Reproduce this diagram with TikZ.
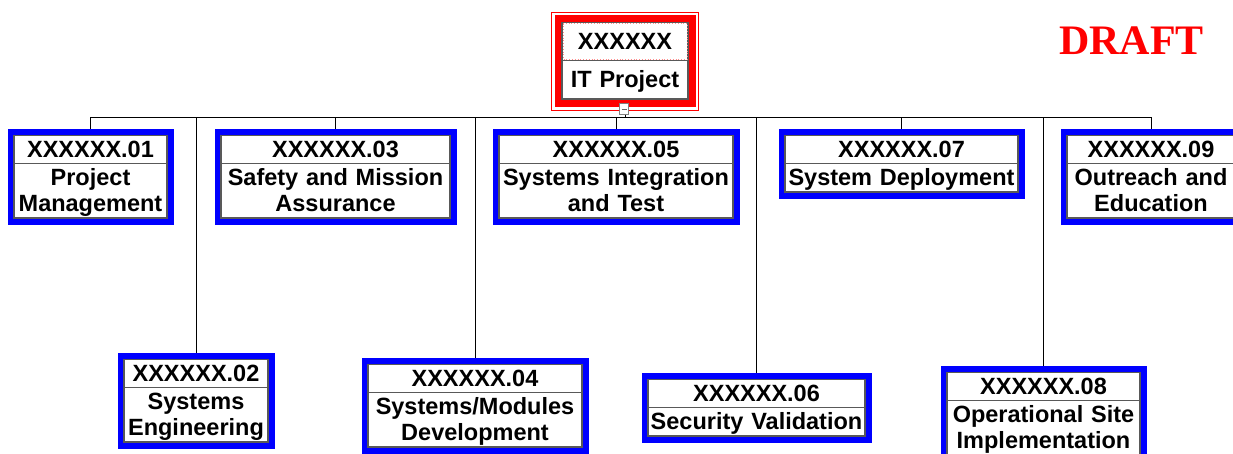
\documentclass[tikz,border=0pt]{standalone}
\usepackage{fontspec}
\setmainfont{Liberation Sans}
\newfontfamily\draftfont{Liberation Serif}
\usetikzlibrary{shapes.multipart,backgrounds}
\newcommand{\ws}{\rule[-5pt]{0pt}{26pt}}

\begin{document}
\begin{tikzpicture}[x=1pt, y=-1pt, line width=1pt,
    box/.style = {rectangle split, rectangle split parts=2, anchor=north, fill=white, draw=black!65, line width=1.2pt, font=\fontsize{23.5}{26}\selectfont\bfseries, align=center, inner xsep=0pt, inner ysep=0.5pt},
    task/.style = {box, preaction={draw=blue, line width=13pt}},
    root/.style = {box, preaction={draw=red, line width=15pt}, inner ysep=5.5pt}]
  \useasboundingbox (0,0) rectangle (1233,453);

  \node[root, text width=126pt] (n_0) at (625,22) {\ws XXXXXX \nodepart{two} \ws IT Project};
  \draw[red, line width=0.8pt] ([shift={(-10,-10)}]n_0.north west) rectangle ([shift={(10,11)}]n_0.south east);
  \draw[red!45, dotted, line width=0.8pt] ([shift={(1.5,1.5)}]n_0.north west) rectangle ([shift={(-1.5,-1.5)}]n_0.one split east);

  \node[task, text width=153pt] (n_1) at (90.5,135) {\ws XXXXXX.01 \nodepart{two} \ws Project\\\ws Management};
  \node[task, text width=144pt] (n_2) at (196,359) {\ws XXXXXX.02 \nodepart{two} \ws Systems\\\ws Engineering};
  \node[task, text width=229pt] (n_3) at (335.5,135) {\ws XXXXXX.03 \nodepart{two} \ws Safety and Mission\\\ws Assurance};
  \node[task, text width=214pt] (n_4) at (475,364) {\ws XXXXXX.04 \nodepart{two} \ws Systems/Modules\\\ws Development};
  \node[task, text width=234pt] (n_5) at (616,135) {\ws XXXXXX.05 \nodepart{two} \ws Systems Integration\\\ws and Test};
  \node[task, text width=217pt] (n_6) at (756.5,379) {\ws XXXXXX.06 \nodepart{two} \ws Security Validation};
  \node[task, text width=233pt] (n_7) at (901.5,135) {\ws XXXXXX.07 \nodepart{two} \ws System Deployment};
  \node[task, text width=193pt] (n_8) at (1043.5,372) {\ws XXXXXX.08 \nodepart{two} \ws Operational Site\\\ws Implementation};
  \node[task, text width=168pt] (n_9) at (1151,135) {\ws XXXXXX.09 \nodepart{two} \ws Outreach and\\\ws Education};

  \node[draw=black!50, fill=white, minimum width=9pt, minimum height=11pt, inner sep=0pt, line width=0.8pt] (fold) at (624,109) {};
  \draw[black!60] ([xshift=-2.5pt]fold.center) -- ([xshift=2.5pt]fold.center);

  \node[text=red, font=\draftfont\bfseries\fontsize{42}{42}\selectfont, anchor=base] (draft) at (1131.5,54) {DRAFT};

  \coordinate (bus) at (0,117);
  \begin{scope}[on background layer]
    \draw (n_0.south) -- (n_0.south |- bus);
    \draw (n_1.north |- bus) -- (n_9.north |- bus);
    \foreach \i in {1,...,9} \draw (n_\i.north |- bus) -- (n_\i.north);
  \end{scope}
\end{tikzpicture}
\end{document}
